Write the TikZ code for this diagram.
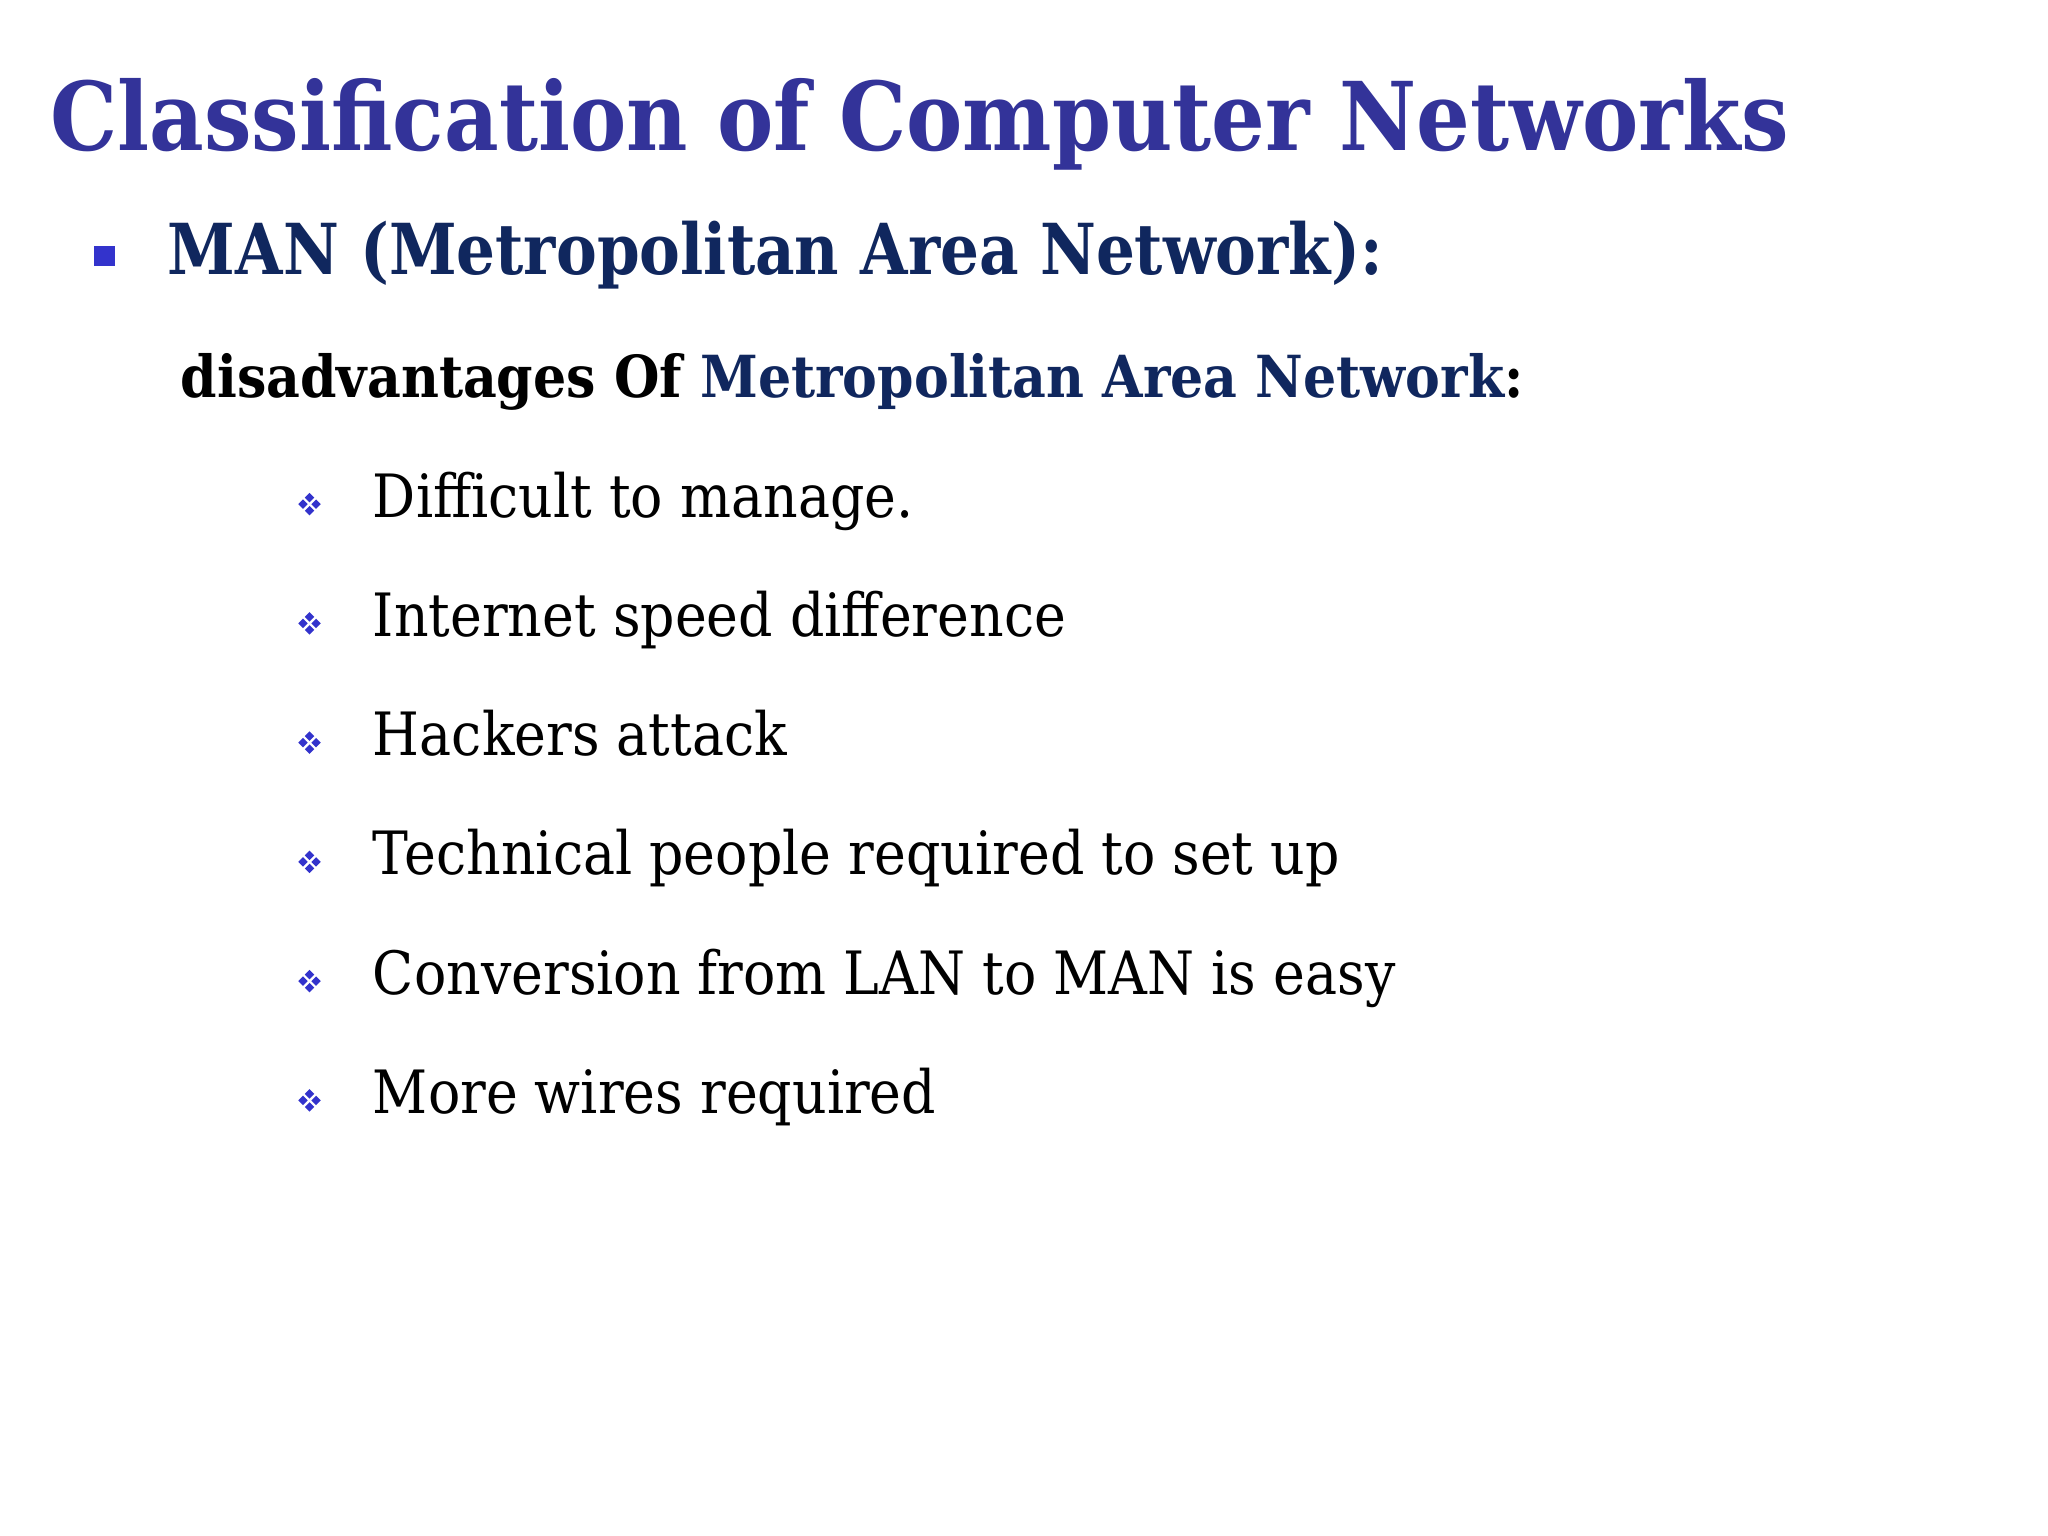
\documentclass[tikz,border=0pt]{standalone}
\usepackage{fontspec}
\usepackage{graphicx}
\setmainfont{DejaVu Serif}
\definecolor{titleblue}{HTML}{333399}
\definecolor{navy}{HTML}{10275E}
\definecolor{bulblue}{HTML}{3333CC}
\usetikzlibrary{shapes.geometric}
\tikzset{
  txt/.style={anchor=base west, inner sep=0pt},
  item/.style={txt, font=\fontsize{17}{20}\selectfont},
  dia/.style={fill=bulblue, inner sep=0pt, minimum size=0.1cm, diamond},
}
\begin{document}
\begin{tikzpicture}[x=0.01306cm,y=-0.01306cm]
\useasboundingbox (0,0) rectangle (1568,1176);
\fill[white] (0,0) rectangle (1568,1176);
\node[txt, text=titleblue, font=\fontsize{27}{32}\bfseries\selectfont] (title) at (38,115) {\scalebox{0.89}[1]{Classification of Computer Networks}};
\fill[bulblue] (72,188) rectangle (88,204);
\node[txt, text=navy, font=\fontsize{20}{25}\bfseries\selectfont] (man) at (128,210) {\scalebox{0.87}[1]{MAN (Metropolitan Area Network):}};
\node[txt, font=\fontsize{16.5}{20}\bfseries\selectfont] (sub) at (138,304) {\scalebox{0.9}[1]{disadvantages Of \textcolor{navy}{Metropolitan Area Network}:}};
\foreach \t [count=\i] in {Difficult to manage.,Internet speed difference,Hackers attack,Technical people required to set up,Conversion from LAN to MAN is easy,More wires required}{
  \pgfmathsetmacro{\yy}{396+91.3*(\i-1)}
  \node[item] (it\i) at (285,\yy) {\scalebox{0.9}[1]{\t}};
  \foreach \dx/\dy in {0/-5,0/5,-5/0,5/0} \node[dia] at (237+\dx,\yy-10+\dy) {};
}
\end{tikzpicture}
\end{document}
